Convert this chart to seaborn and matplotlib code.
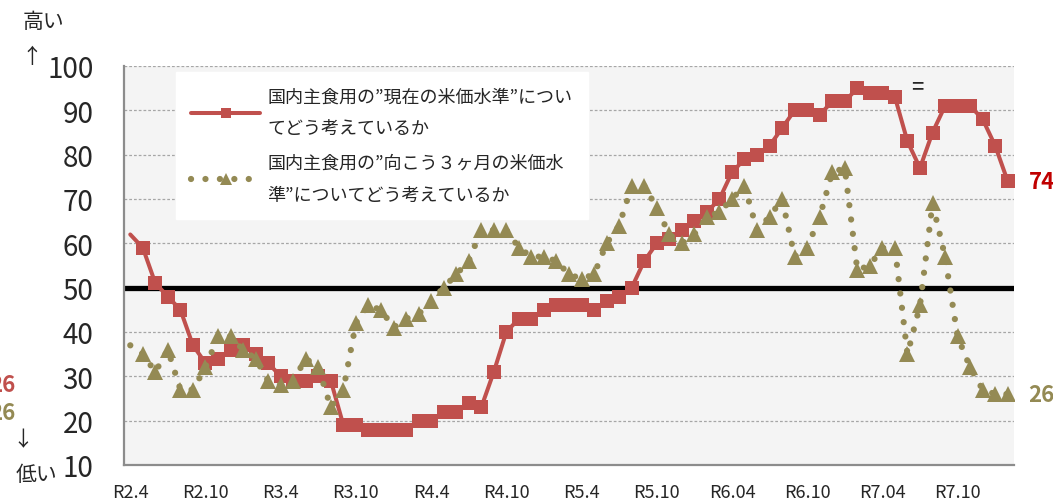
import numpy as np
import pandas as pd
import matplotlib
matplotlib.use('Agg')
import matplotlib.pyplot as plt
import seaborn as sns

# monthly DI, R2.4 .. R8.2
tick_labels = ['R2.4', 'R2.10', 'R3.4', 'R3.10', 'R4.4', 'R4.10',
               'R5.4', 'R5.10', 'R6.04', 'R6.10', 'R7.04', 'R7.10']
current_level = [62, 59, 51, 48, 45, 37, 33, 34, 36, 37, 35, 33, 30, 29, 29,
                 30, 29, 19, 19, 18, 18, 18, 18, 20, 20, 22, 22, 24, 23, 31,
                 40, 43, 43, 45, 46, 46, 46, 45, 47, 48, 50, 56, 60, 61, 63,
                 65, 67, 70, 76, 79, 80, 82, 86, 90, 90, 89, 92, 92, 95, 94,
                 94, 93, 83, 77, 85, 91, 91, 91, 88, 82, 74]
outlook_level = [37, 35, 31, 36, 27, 27, 32, 39, 39, 36, 34, 29, 28, 29, 34,
                 32, 23, 27, 42, 46, 45, 41, 43, 44, 47, 50, 53, 56, 63, 63,
                 63, 59, 57, 57, 56, 53, 52, 53, 60, 64, 73, 73, 68, 62, 60,
                 62, 66, 67, 70, 73, 63, 66, 70, 57, 59, 66, 76, 77, 54, 55,
                 59, 59, 35, 46, 69, 57, 39, 32, 27, 26, 26]
label_current = '国内主食用の”現在の米価水準”につい\nてどう考えているか'
label_outlook = '国内主食用の”向こう３ヶ月の米価水\n準”についてどう考えているか'

RED = '#C0504D'
OLIVE = '#948A54'

df = pd.DataFrame({'month': np.arange(len(current_level)),
                   'current': current_level,
                   'outlook': outlook_level})
n = len(df)

sns.set_style('white')
plt.rcParams['font.family'] = ['Noto Sans CJK JP', 'DejaVu Sans']

fig, ax = plt.subplots(figsize=(10.53, 5.02), dpi=100)
fig.subplots_adjust(left=124/1053, right=1014/1053, bottom=1-466/502, top=1-67/502)
ax.set_facecolor('#F4F4F4')

sns.lineplot(data=df, x='month', y='current', ax=ax, color=RED, linewidth=2.9,
             marker='s', markersize=9.5, markeredgewidth=0, markeredgecolor=RED,
             markevery=list(range(1, n)), solid_capstyle='round')
sns.lineplot(data=df, x='month', y='outlook', ax=ax, color=OLIVE, linewidth=4.5,
             linestyle=(0, (0.01, 2.3)), dash_capstyle='round',
             marker='^', markersize=11, markeredgewidth=0, markeredgecolor=OLIVE,
             markevery=list(range(1, n)))

ax.axhline(50, color='black', linewidth=3.8, zorder=1.5)

ax.set_xlim(-0.5, n - 0.5)
ax.set_ylim(10, 100)
ax.set_yticks(range(10, 101, 10))
ax.set_xticks(range(0, 67, 6))
ax.set_xticklabels(tick_labels)
ax.set_xlabel('')
ax.set_ylabel('')
ax.yaxis.grid(True, linestyle=(0, (2.2, 1.6)), color='#A6A6A6', linewidth=0.9)
ax.set_axisbelow(True)
ax.tick_params(axis='y', length=0, pad=22, labelsize=20)
ax.tick_params(axis='x', length=0, pad=13, labelsize=13)
for s in ['top', 'right']:
    ax.spines[s].set_visible(False)
for s in ['left', 'bottom']:
    ax.spines[s].set_color('#8C8C8C')
    ax.spines[s].set_linewidth(1.6)

# legend
lines = ax.get_lines()
leg = ax.legend([lines[0], lines[1]], [label_current, label_outlook],
                loc='upper left', bbox_to_anchor=(176/1053, 1-73/502),
                bbox_transform=fig.transFigure, borderaxespad=0,
                frameon=True, fancybox=False, framealpha=1,
                facecolor='white', edgecolor='white', fontsize=13,
                handlelength=3.8, handletextpad=0.4, borderpad=0.85,
                labelspacing=0.9, markerscale=0.75)
for t in leg.get_texts():
    t.set_linespacing(2.0)

# end labels
ax.annotate(str(current_level[-1]), xy=(n - 1, current_level[-1]),
            xytext=(15, 0), textcoords='offset points', va='center', ha='left',
            color='#C00000', fontsize=16, fontweight='bold', annotation_clip=False)
ax.annotate(str(outlook_level[-1]), xy=(n - 1, outlook_level[-1]),
            xytext=(15, 0), textcoords='offset points', va='center', ha='left',
            color=OLIVE, fontsize=16, fontweight='bold', annotation_clip=False)

# left-edge labels (cut off in the original)
fig.text(15/1053, 1-386/502, '26', ha='right', va='center', color=RED,
         fontsize=16, fontweight='bold')
fig.text(15/1053, 1-413/502, '26', ha='right', va='center', color=OLIVE,
         fontsize=16, fontweight='bold')

fig.text(44/1053, 1-22/502, '高い', ha='center', va='center', fontsize=15)
fig.text(32/1053, 1-57/502, '↑', ha='center', va='center', fontsize=15)
fig.text(23/1053, 1-440/502, '↓', ha='center', va='center', fontsize=15)
fig.text(37/1053, 1-475/502, '低い', ha='center', va='center', fontsize=15)
fig.text(917/1053, 1-88/502, '=', ha='center', va='center', fontsize=16)

fig.savefig('out.png', dpi=100)
